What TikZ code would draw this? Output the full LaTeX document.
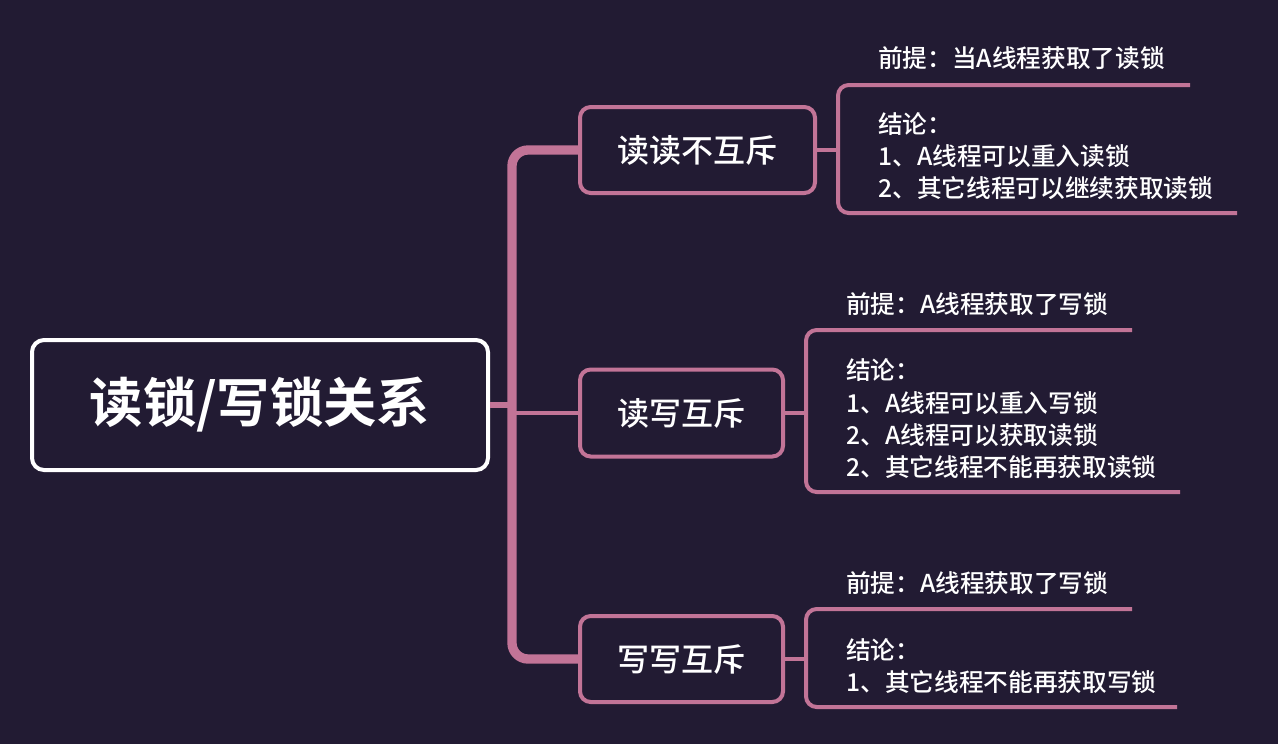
\documentclass[tikz,border=0pt]{standalone}
\usepackage{fontspec}
\setmainfont{Noto Sans CJK SC}
\newfontfamily\cjkb{Noto Sans CJK SC Bold}
\newfontfamily\cjkm{Noto Sans CJK SC Medium}
\definecolor{bg}{HTML}{221B33}
\definecolor{pk}{HTML}{C27497}
\begin{document}
\begin{tikzpicture}[x=0.75pt,y=-0.75pt,
  lnk/.style={draw=pk,line width=3pt,rounded corners=8pt},
  sub/.style={draw=pk,line width=3pt,rounded corners=8pt,text=white,font=\cjkm\fontsize{24}{28}\selectfont,inner sep=0pt},
  txt/.style={text=white,font=\cjkm\fontsize{18.5}{24}\selectfont,anchor=west,inner sep=0pt}]
\fill[bg] (0,0) rectangle (1278,744);
\useasboundingbox (0,0) rectangle (1278,744);
\node[draw=white,line width=3pt,rounded corners=9pt,minimum width=456*0.75pt,minimum height=130*0.75pt,text=white,font=\cjkb\fontsize{40}{46}\selectfont] (root) at (260,405) {读锁/写锁关系};
\node[sub,minimum width=235*0.75pt,minimum height=86*0.75pt] (b1) at (697.5,150) {读读不互斥};
\node[sub,minimum width=203*0.75pt,minimum height=87*0.75pt] (b2) at (681.5,413) {读写互斥};
\node[sub,minimum width=203*0.75pt,minimum height=86*0.75pt] (b3) at (681.5,659) {写写互斥};
\draw[pk,line width=5pt] (root.east) -- (512,405);
\draw[pk,line width=7pt,rounded corners=12pt] (b1.west) -- (512,150) -- (512,659) -- (b3.west);
\draw[lnk] (512,413) -- (b2.west);
% bracket 1
\coordinate (t1) at (1190,85); \coordinate (u1) at (1237,213);
\draw[lnk] (b1.east) -- (838,150);
\draw[lnk] (t1) -- (838,85) -- (838,213) -- (u1);
\node[txt] (p1) at (878,58) {前提：当A线程获取了读锁};
\node[txt] (c1a) at (878,124) {结论：};
\node[txt] (c1b) at (878,156) {1、A线程可以重入读锁};
\node[txt] (c1c) at (878,188) {2、其它线程可以继续获取读锁};
% bracket 2
\coordinate (t2) at (1132,330); \coordinate (u2) at (1180,492);
\draw[lnk] (b2.east) -- (806,413);
\draw[lnk] (t2) -- (806,330) -- (806,492) -- (u2);
\node[txt] (p2) at (846,304) {前提：A线程获取了写锁};
\node[txt] (c2a) at (846,370) {结论：};
\node[txt] (c2b) at (846,403) {1、A线程可以重入写锁};
\node[txt] (c2c) at (846,435) {2、A线程可以获取读锁};
\node[txt] (c2d) at (846,467) {2、其它线程不能再获取读锁};
% bracket 3
\coordinate (t3) at (1132,609); \coordinate (u3) at (1177,707);
\draw[lnk] (b3.east) -- (806,659);
\draw[lnk] (t3) -- (806,609) -- (806,707) -- (u3);
\node[txt] (p3) at (846,583) {前提：A线程获取了写锁};
\node[txt] (c3a) at (846,650) {结论：};
\node[txt] (c3b) at (846,682) {1、其它线程不能再获取写锁};
\end{tikzpicture}
\end{document}
